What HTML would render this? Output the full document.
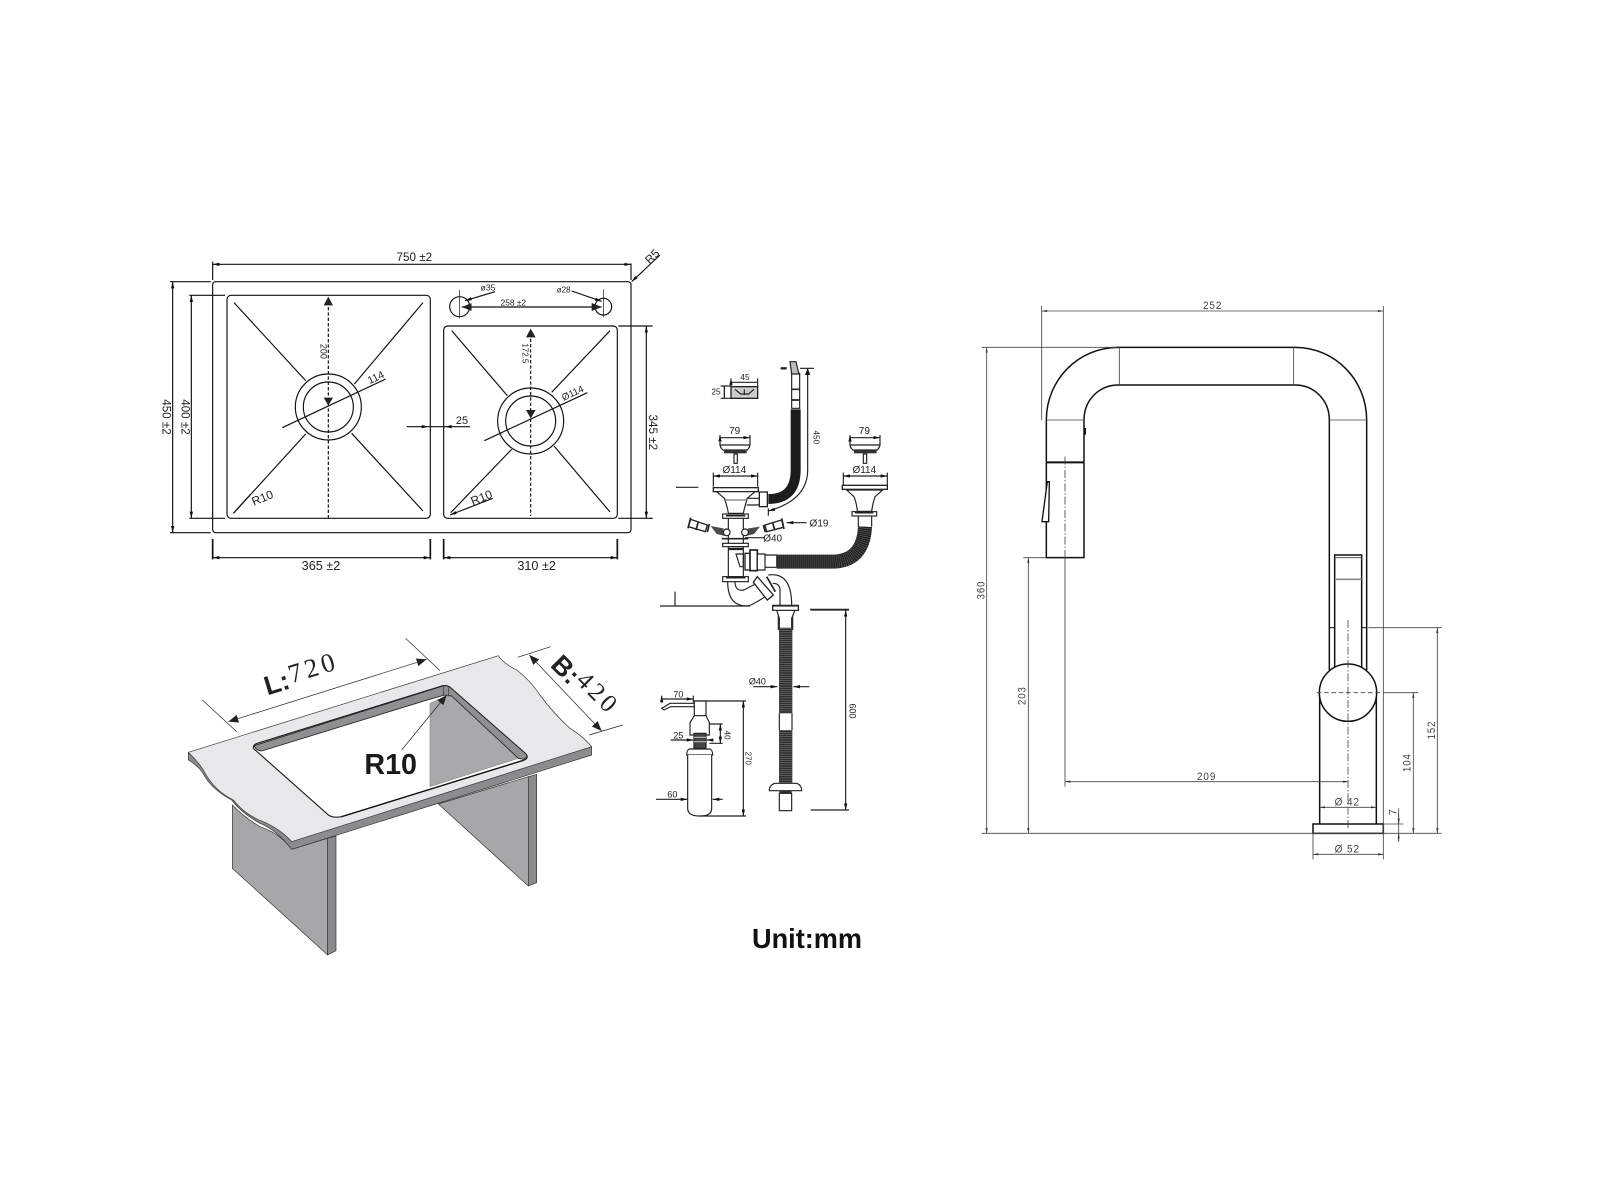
<!DOCTYPE html>
<html><head><meta charset="utf-8"><title>Sink dimensions</title>
<style>
html,body{margin:0;padding:0;background:#fff}
svg{display:block}
text{font-family:"Liberation Sans",sans-serif}
</style></head>
<body>
<svg width="1603" height="1202" viewBox="0 0 1603 1202" xmlns="http://www.w3.org/2000/svg">
<defs>
<marker id="a" markerUnits="userSpaceOnUse" viewBox="0 0 20 10" refX="20" refY="5" markerWidth="20" markerHeight="10" orient="auto-start-reverse"><path d="M0,0L20,5L0,10z" fill="#111"/></marker>
<marker id="g" markerUnits="userSpaceOnUse" viewBox="0 0 20 8" refX="20" refY="4" markerWidth="16" markerHeight="7" orient="auto-start-reverse"><path d="M0,0L20,4L0,8z" fill="#333"/></marker>
<marker id="b" markerUnits="userSpaceOnUse" viewBox="0 0 30 24" refX="30" refY="12" markerWidth="30" markerHeight="24" orient="auto-start-reverse"><path d="M0,0L30,12L0,24z" fill="#222"/></marker>
</defs>
<rect width="1603" height="1202" fill="#fff"/>

<!-- SINK -->
<g transform="translate(150,230) scale(.33333)" fill="none" stroke="#111" stroke-width="3.5">
<rect x="188" y="155" width="1255" height="753" rx="9"/>
<rect x="231" y="196" width="610" height="669" rx="12"/>
<rect x="881" y="288" width="521" height="577" rx="12"/>
<circle cx="535" cy="531" r="99"/><circle cx="535" cy="531" r="75"/>
<circle cx="1142" cy="573" r="99"/><circle cx="1142" cy="573" r="75"/>
<path d="M252,218L467,452M819,218L613,462M252,848L467,612M819,843L605,610"/>
<path d="M905,302L1072,497M1380,302L1205,487M902,848L1085,658M1380,846L1212,648"/>
<path d="M535,215V865M1142,310V858" stroke-dasharray="10 6"/>
<path d="M535,200L521,226H549zM521,503H549L535,527zM1142,296L1128,322H1157zM1128,540H1157L1142,565z" fill="#222" stroke="none"/>
<path d="M397,593L707,447M1003,632L1312,488"/>
<!-- dims -->
<path d="M188,95V150M1443,100V150M60,155H182M60,908H182M118,196H225M118,865H225M1405,288H1508M1405,865H1508"/>
<path d="M188,927V988M841,927V988M881,927V988M1402,927V988" stroke-width="5"/>
<path d="M188,103H1443" marker-start="url(#a)" marker-end="url(#a)"/>
<path d="M68,155V908" marker-start="url(#a)" marker-end="url(#a)"/>
<path d="M124,196V865" marker-start="url(#a)" marker-end="url(#a)"/>
<path d="M1489,288V865" marker-start="url(#a)" marker-end="url(#a)"/>
<path d="M188,983H841" marker-start="url(#a)" marker-end="url(#a)"/>
<path d="M881,983H1402" marker-start="url(#a)" marker-end="url(#a)"/>
<path d="M770,590H960"/>
<path d="M815,585L835,590L815,595zM905,585L885,590L905,595z" fill="#111" stroke="none"/>
<path d="M1530,75L1445,155" marker-end="url(#a)"/>
<path d="M1028,805L900,855" marker-end="url(#a)"/>
<path d="M300,795L250,850"/>
<circle cx="929" cy="230" r="30"/><circle cx="1360" cy="230" r="25"/>
<path d="M929,180V265M1360,178V262" stroke-width="2"/>
<path d="M935,231H1355" marker-start="url(#b)" marker-end="url(#b)"/>
<path d="M1035,185L945,212" marker-end="url(#a)"/><path d="M1265,183L1355,214" marker-end="url(#a)"/>
<g fill="#222" stroke="none" font-size="35">
<text x="793" y="93" text-anchor="middle">750 ±2</text>
<text x="513" y="1020" text-anchor="middle" font-size="38">365 ±2</text>
<text x="1160" y="1020" text-anchor="middle" font-size="38">310 ±2</text>
<text transform="translate(37,561) rotate(90)" text-anchor="middle">450 ±2</text>
<text transform="translate(94,561) rotate(90)" text-anchor="middle">400 ±2</text>
<text transform="translate(1497,607) rotate(90)" text-anchor="middle">345 ±2</text>
<text transform="translate(1515,88) rotate(-45)" text-anchor="middle">R5</text>
<text x="936" y="582" text-anchor="middle" font-size="33">25</text>
<text transform="translate(342,815) rotate(-22)" text-anchor="middle" font-size="36">R10</text>
<text transform="translate(999,814) rotate(-22)" text-anchor="middle" font-size="36">R10</text>
<text transform="translate(682,452) rotate(-25)" text-anchor="middle" font-size="32">114</text>
<text transform="translate(1272,498) rotate(-25)" text-anchor="middle" font-size="29">Ø114</text>
<text transform="translate(511,364) rotate(90)" text-anchor="middle" font-size="27">200</text>
<text transform="translate(1118,370) rotate(90)" text-anchor="middle" font-size="24">172.5</text>
<text x="1090" y="226" text-anchor="middle" font-size="25">258 ±2</text>
<text x="1014" y="181" text-anchor="middle" font-size="26">ø35</text>
<text x="1241" y="188" text-anchor="middle" font-size="24">ø28</text>
</g>
</g>

<!-- WORKTOP -->
<g transform="translate(170,600) scale(.33333)" stroke-linejoin="round">
<path d="M187,615V805L473,1065V715L365,748Q330,700 270,680Q220,650 187,615z" fill="#a6a7a9" stroke="#333" stroke-width="2"/>
<path d="M473,715L498,708V1052L473,1065z" fill="#8a8b8d" stroke="#333" stroke-width="2"/>
<path d="M805,612L1075,530V858z" fill="#a6a7a9" stroke="#333" stroke-width="2"/>
<path d="M1075,530L1100,523V848L1075,858z" fill="#8a8b8d" stroke="#333" stroke-width="2"/>
<path d="M55,457V480Q90,500 105,530Q130,570 185,600Q215,640 270,670Q320,690 365,748L1265,465V440z" fill="#8b8c8e" stroke="#333" stroke-width="2"/>
<path d="M55,457L985,167Q1000,190 1040,210Q1080,240 1110,285Q1150,340 1200,385Q1240,410 1265,440L365,725Q335,690 280,665Q225,645 190,600Q130,570 100,510Q80,480 55,457z" fill="#e7e8e9" stroke="#333" stroke-width="2"/>
<path d="M250,442Q250,434 262,430L815,258Q828,255 838,260L1068,462Q1078,475 1060,481L515,650Q490,655 475,645L258,452Q250,447 250,442z" fill="#fff" stroke="#222" stroke-width="3.5"/>
<path d="M780,310L825,290L845,288L1045,475L780,560z" fill="#a8a9ab" stroke="#777" stroke-width="1.5"/>
<path d="M252,437L815,259Q828,255 838,260L1068,462Q1075,470 1062,478L1045,475L845,288L825,285L778,298L275,453Q258,452 252,437z" fill="#8f9092" stroke="#222" stroke-width="2.5"/>
<path d="M820,258V287M835,258V287" stroke="#333" stroke-width="2"/>
<path d="M515,650L1060,481" stroke="#111" stroke-width="4" fill="none"/>
<g fill="none" stroke="#222" stroke-width="2">
<path d="M97,300L200,395M707,115L810,212M1043,172L1142,140M1258,405L1358,375"/>
<path d="M175,365L770,178" marker-start="url(#b)" marker-end="url(#b)"/>
<path d="M1078,165L1295,393" marker-start="url(#b)" marker-end="url(#b)"/>
<path d="M695,450L830,285" marker-end="url(#b)"/>
</g>
<text transform="translate(292,286) rotate(-17)" font-size="80" font-weight="bold" fill="#222">L:</text>
<text transform="translate(364,250) rotate(-17)" font-size="80" letter-spacing="11" fill="#222" style="font-family:'Liberation Serif',serif">720</text>
<text transform="translate(1138,198) rotate(45)" font-size="80" font-weight="bold" fill="#222">B:</text>
<text transform="translate(1215,245) rotate(45)" font-size="76" letter-spacing="11" fill="#222" style="font-family:'Liberation Serif',serif">420</text>
<text x="662" y="522" text-anchor="middle" font-size="86" font-weight="bold" fill="#1a1a1a">R10</text>
</g>

<!-- DRAIN -->
<g transform="translate(650,350) scale(.33333)" fill="none" stroke="#222" stroke-width="3.5">
<!-- hose -->
<path d="M437,178V360Q437,447 355,447" stroke="#1c1c1c" stroke-width="30"/>
<path d="M425,70H449V175H425z" fill="#fff"/>
<path d="M425,118H449M425,150H449" stroke-width="5"/>
<path d="M420,35H438L447,72H425z" fill="#bbb"/>
<path d="M392,55H410" stroke-width="7"/>
<path d="M450,55H492"/>
<path d="M473,57V360Q473,450 355,483" marker-end="url(#a)"/>
<path d="M473,55L465,75H481z" fill="#111" stroke="none"/>
<!-- box -->
<rect x="243" y="110" width="80" height="35" fill="#ccc" stroke-width="4"/>
<path d="M255,118L272,132H296L312,118M283,118V135"/>
<path d="M243,85V110M323,85V110M243,97H323" marker-start="url(#a)"/>
<path d="M212,108H243M212,145H243"/><path d="M223,108V145" stroke-width="4"/>
<!-- strainer L -->
<path d="M210,255V285M300,255V285M210,263H300" marker-start="url(#a)" marker-end="url(#a)"/>
<path d="M210,285H300Q298,298 285,303H225Q212,298 210,285z" fill="#fff"/>
<rect x="222" y="298" width="68" height="12" fill="#333" stroke="none"/>
<path d="M252,312H262V340H252z" fill="#fff"/>
<path d="M190,378H323" marker-start="url(#a)" marker-end="url(#a)"/>
<path d="M190,368V410M323,368V410M78,412H145"/>
<!-- flange L -->
<rect x="190" y="413" width="135" height="12" fill="#fff" stroke-width="4"/>
<path d="M200,425H315L292,445Q284,470 280,490H235Q232,470 223,445z" fill="#fff"/>
<path d="M225,450H290" stroke="#777"/>
<rect x="218" y="492" width="77" height="13" fill="#fff"/><path d="M228,497H286" stroke-width="5"/>
<path d="M235,505V565M280,505V565"/>
<rect x="328" y="426" width="24" height="44" fill="#fff" stroke-width="4"/>
<path d="M290,445H328M290,465H328M355,475V497"/>
<!-- side spouts -->
<path d="M122,508L172,525L166,545L115,530z" fill="#fff" stroke-width="4"/><path d="M122,503L114,535M178,522L172,546M145,515L138,540" stroke-width="5"/>
<path d="M345,525L395,510L400,532L350,545z" fill="#fff" stroke-width="4"/><path d="M395,505L402,537M340,525L346,547M368,518L374,540" stroke-width="5"/>
<path d="M182,528L220,535L225,558L200,552z" fill="#4a4a4a" stroke="none"/>
<path d="M330,530L295,535L288,558L312,552z" fill="#4a4a4a" stroke="none"/>
<circle cx="230" cy="547" r="10" fill="#fff"/><circle cx="285" cy="547" r="10" fill="#fff"/>
<path d="M470,518H410" marker-end="url(#a)"/>
<path d="M345,563H285"/>
<path d="M215,566H295" stroke-width="5"/>
<rect x="218" y="580" width="77" height="10" fill="#fff"/>
<path d="M235,566V580M280,566V580"/>
<rect x="235" y="590" width="45" height="90" fill="#fff"/>
<path d="M235,597H280" stroke-width="7"/>
<path d="M258,612H280V650H270z"/>
<rect x="218" y="680" width="77" height="15" fill="#fff"/><path d="M228,683H286" stroke-width="5"/>
<!-- connector R -->
<rect x="285" y="610" width="20" height="50" fill="#fff" stroke-width="4"/>
<rect x="300" y="600" width="22" height="62" fill="#fff" stroke-width="5"/>
<path d="M322,612H345V660H322zM345,615H380V652H345z" fill="#fff"/>
<!-- corrugated -->
<path d="M380,635H545Q640,635 645,530" stroke="#222" stroke-width="42"/>
<path d="M380,635H545Q640,635 645,530" stroke="#666" stroke-width="40" stroke-dasharray="1.5 4.5"/>
<!-- strainer R -->
<path d="M600,255V285M690,255V285M600,263H690" marker-start="url(#a)" marker-end="url(#a)"/>
<path d="M600,285H690Q688,298 675,303H615Q602,298 600,285z" fill="#fff"/>
<rect x="612" y="298" width="68" height="12" fill="#333" stroke="none"/>
<path d="M640,312H650V340H640z" fill="#fff"/>
<path d="M580,378H712" marker-start="url(#a)" marker-end="url(#a)"/>
<path d="M580,368V405M712,368V405"/>
<rect x="577" y="406" width="135" height="12" fill="#fff" stroke-width="4"/>
<path d="M590,420H698L675,440Q668,460 665,484H622Q620,460 612,440z" fill="#fff"/>
<rect x="606" y="485" width="74" height="13" fill="#fff"/><path d="M615,488H670" stroke-width="5"/>
<path d="M625,498V530M665,498V530"/>
<!-- trap -->
<path d="M233,695Q233,768 290,768Q305,768 360,730"/>
<path d="M255,695Q255,725 282,720L320,700"/>
<path d="M355,675Q425,665 425,765M390,765V720Q390,700 368,700"/>
<path d="M322,680L370,735L352,750L310,697z" fill="#fff" stroke-width="4"/>
<path d="M350,680L376,725" stroke-width="5"/>
<path d="M30,768H300M75,725V768M0,505H8"/>
<rect x="368" y="766" width="77" height="14" fill="#fff"/><path d="M378,770H436" stroke-width="5"/>
<path d="M385,780V840M428,780V840"/>
<path d="M480,778H597"/>
<g fill="#222" stroke="none" font-size="30" text-anchor="middle">
<text x="254" y="252">79</text><text x="643" y="252">79</text>
<text x="253" y="369">Ø114</text><text x="643" y="369">Ø114</text>
<text x="507" y="529">Ø19</text><text x="368" y="574">Ø40</text>
<text x="285" y="90" font-size="25">45</text>
<text x="198" y="133" font-size="25">25</text>
<text transform="translate(491,262) rotate(90)" font-size="25">450</text>
</g>
</g>

<!-- DRAIN LOWER + DISPENSER -->
<g transform="translate(650,600) scale(.33333)" fill="none" stroke="#222" stroke-width="3.5">
<path d="M380,30H435L425,55V85H388V55z" fill="#fff"/>
<rect x="368" y="18" width="77" height="13" fill="#fff"/>
<rect x="387" y="85" width="40" height="255" fill="#2e2e2e" stroke="none"/>
<rect x="387" y="390" width="40" height="160" fill="#2e2e2e" stroke="none"/>
<path d="M407,85V340M407,390V550" stroke="#888" stroke-width="40" stroke-dasharray="1.5 5"/>
<path d="M388,340V390M426,340V390"/>
<path d="M375,550H440Q455,555 455,572H358Q358,555 375,550z" fill="#fff"/>
<rect x="388" y="572" width="37" height="8" fill="#333" stroke="none"/>
<rect x="388" y="580" width="37" height="52" fill="#fff"/>
<path d="M482,30H597M482,630H597"/>
<path d="M587,30V630" marker-start="url(#a)" marker-end="url(#a)"/>
<path d="M310,260H382" marker-end="url(#a)"/><path d="M478,260H430" marker-end="url(#a)"/>
<!-- dispenser -->
<path d="M35,325L60,310H133V320H62L42,330z" fill="#fff"/>
<path d="M35,287V307M130,287V307M35,297H130" marker-start="url(#a)" marker-end="url(#a)"/>
<path d="M133,303H288"/>
<path d="M133,303H168V347L178,368V405H120V368L133,347z" fill="#fff"/>
<path d="M133,347H168"/>
<rect x="132" y="400" width="36" height="45" fill="#444" stroke="#222"/>
<path d="M132,412H168M132,425H168" stroke="#bbb"/>
<path d="M118,447H180Q188,450 188,465H110Q110,450 118,447z" fill="#fff"/>
<path d="M113,465V625Q113,648 150,648Q185,648 185,625V465" fill="#fff"/>
<path d="M150,648H288"/>
<path d="M280,303V648" marker-start="url(#a)" marker-end="url(#a)"/>
<path d="M178,372H218M178,430H218"/>
<path d="M211,372V430" marker-start="url(#a)" marker-end="url(#a)"/>
<path d="M62,420H130" marker-end="url(#a)"/><path d="M190,420H170" marker-end="url(#a)"/>
<path d="M18,598H112" marker-end="url(#a)"/><path d="M218,598H188" marker-end="url(#a)"/>
<g fill="#222" stroke="none" font-size="27" text-anchor="middle">
<text x="322" y="253">Ø40</text>
<text transform="translate(599,333) rotate(90)">600</text>
<text x="85" y="292">70</text>
<text x="85" y="416">25</text>
<text x="67" y="593">60</text>
<text transform="translate(224,405) rotate(90)" font-size="25">40</text>
<text transform="translate(287,475) rotate(90)" font-size="24">270</text>
</g>
</g>

<!-- FAUCET -->
<g transform="translate(970,290) scale(.33333)" fill="none" stroke="#111" stroke-width="4.5">
<path d="M229,517V390C229,270 325,172 445,172H975C1095,172 1190,270 1190,390V1140"/>
<path d="M342,517V390C342,330 388,285 445,285H975C1032,285 1078,330 1078,390V1140"/>
<path d="M229,517H342" stroke-width="6"/>
<path d="M229,517V803H342V517"/>
<path d="M232,575H238L236,695H216z" stroke-width="4" fill="#fff"/>
<rect x="342" y="414" width="6" height="20" fill="#111" stroke="none"/>
<path d="M1094,1135V795H1175V1135"/>
<path d="M1094,803H1175" stroke="#555" stroke-width="3"/>
<path d="M1094,868H1175" stroke="#888" stroke-width="5"/>
<path d="M1078,1013H1094M1175,1013H1190" stroke-width="3"/>
<path d="M1049,1208V1602M1219,1208V1602"/>
<circle cx="1134" cy="1208" r="86" fill="#fff"/>
<path d="M1029,1602H1240V1630H1029z" fill="#fff"/>
<g stroke="#444" stroke-width="2.5">
<path d="M448,172V285M971,172V285M229,390H342M1078,390H1190"/>
<path d="M285,500V803" stroke-dasharray="24 6 4 6"/>
<path d="M285,803V1490"/>
<path d="M1134,990V1620" stroke-dasharray="24 6 4 6"/>
<path d="M1040,1208H1230" stroke-dasharray="14 8"/>
<path d="M1240,1208H1345M1195,1013H1415M215,48V390M1240,48V1630M35,172H440M160,803H228M35,1630H1415M1029,1630V1708M1240,1630V1708M1240,1602H1300"/>
<path d="M215,63H1240" marker-start="url(#g)" marker-end="url(#g)"/>
<path d="M50,172V1630" marker-start="url(#g)" marker-end="url(#g)"/>
<path d="M175,803V1630" marker-start="url(#g)" marker-end="url(#g)"/>
<path d="M285,1475H1135" marker-start="url(#g)" marker-end="url(#g)"/>
<path d="M1049,1552H1219" marker-start="url(#g)" marker-end="url(#g)"/>
<path d="M1029,1693H1240" marker-start="url(#g)" marker-end="url(#g)"/>
<path d="M1330,1208V1630" marker-start="url(#g)" marker-end="url(#g)"/>
<path d="M1402,1013V1630" marker-start="url(#g)" marker-end="url(#g)"/>
<path d="M1286,1555V1655"/>
<path d="M1286,1570V1602" marker-end="url(#g)"/><path d="M1286,1655V1630" marker-end="url(#g)"/>
</g>
<g fill="#444" stroke="none" font-size="32" text-anchor="middle" letter-spacing="3">
<text x="728" y="57" textLength="58" lengthAdjust="spacingAndGlyphs">252</text>
<text transform="translate(44,900) rotate(-90)" textLength="56" lengthAdjust="spacingAndGlyphs">360</text>
<text transform="translate(167,1217) rotate(-90)" textLength="56" lengthAdjust="spacingAndGlyphs">203</text>
<text x="710" y="1470" textLength="58" lengthAdjust="spacingAndGlyphs">209</text>
<text x="1132" y="1547" textLength="76" lengthAdjust="spacingAndGlyphs">Ø 42</text>
<text x="1132" y="1688" textLength="76" lengthAdjust="spacingAndGlyphs">Ø 52</text>
<text transform="translate(1279,1565) rotate(-90)">7</text>
<text transform="translate(1322,1418) rotate(-90)" textLength="56" lengthAdjust="spacingAndGlyphs">104</text>
<text transform="translate(1395,1320) rotate(-90)" textLength="56" lengthAdjust="spacingAndGlyphs">152</text>
</g>
</g>

<text x="752" y="948" font-size="28" font-weight="bold" fill="#111" textLength="110" lengthAdjust="spacingAndGlyphs">Unit:mm</text>
</svg>
</body></html>
